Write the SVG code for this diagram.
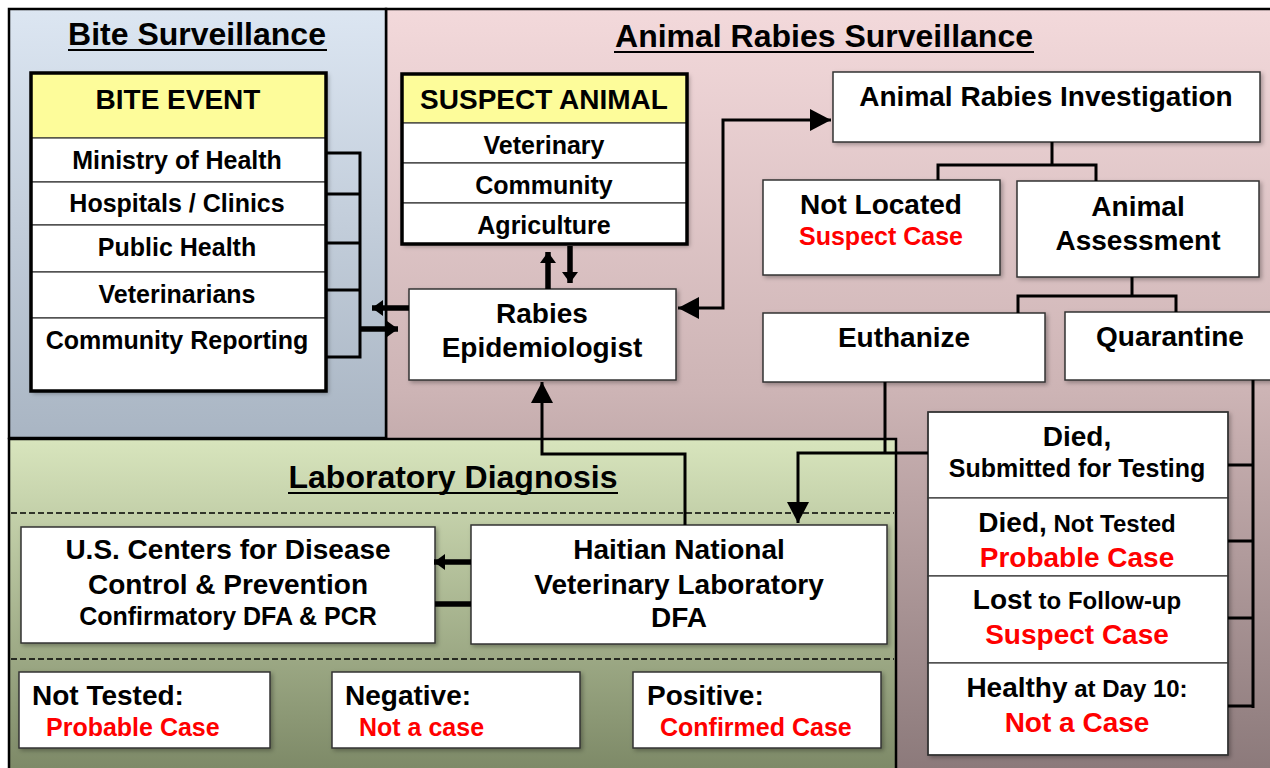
<svg xmlns="http://www.w3.org/2000/svg" width="1270" height="768" viewBox="0 0 1270 768">
<style>
.t{font-family:"Liberation Sans",Arial,sans-serif;font-weight:bold;fill:#000;text-anchor:middle}
.f28{font-size:28px}
.f24{font-size:24px}
.f25{font-size:25px}
.f32{font-size:32px}
.red{fill:#ff0000}
.st{text-anchor:start}
.box{fill:#fff;stroke:#333;stroke-width:1.5}
.hdr{fill:#fdfc9a;stroke:#333;stroke-width:1}
.row{fill:#fff;stroke:#333;stroke-width:1.2}
.frame{fill:none;stroke:#000;stroke-width:3.5}
.panel{stroke:#000;stroke-width:2.5}
.ln{fill:none;stroke:#000;stroke-width:3}
.thick{fill:none;stroke:#000;stroke-width:5.5}
.dash{stroke:#000;stroke-width:1.6;stroke-dasharray:6 3}
.ul{stroke:#000;stroke-width:2.2}
</style>
<defs>
<linearGradient id="gBite" x1="0" y1="0" x2="0" y2="1">
<stop offset="0" stop-color="#dce6f2"/><stop offset="1" stop-color="#a9b5c3"/>
</linearGradient>
<linearGradient id="gAnimal" x1="0" y1="0" x2="0" y2="1">
<stop offset="0" stop-color="#f3d9db"/><stop offset="0.5" stop-color="#cdb4b5"/><stop offset="1" stop-color="#8b797a"/>
</linearGradient>
<linearGradient id="gLab" x1="0" y1="0" x2="0" y2="1">
<stop offset="0" stop-color="#d8e5bd"/><stop offset="1" stop-color="#7c8866"/>
</linearGradient>
<filter id="sh" x="-10%" y="-10%" width="130%" height="140%">
<feDropShadow dx="2" dy="2" stdDeviation="2" flood-color="#000" flood-opacity="0.3"/>
</filter>
<marker id="big" markerUnits="userSpaceOnUse" markerWidth="24" markerHeight="24" refX="21" refY="11" orient="auto-start-reverse">
<path d="M0,0 L21,11 L0,22 z" fill="#000"/>
</marker>
<marker id="small" markerUnits="userSpaceOnUse" markerWidth="14" markerHeight="18" refX="11" refY="8" orient="auto-start-reverse">
<path d="M0,0 L11,8 L0,16 z" fill="#000"/>
</marker>
</defs>

<rect x="0" y="0" width="1270" height="768" fill="#fff"/>

<g id="panel-animal">
<rect class="panel" x="386" y="9" width="890" height="765" fill="url(#gAnimal)"/>
<text class="t f32" x="824" y="47">Animal Rabies Surveillance</text>
<line class="ul" x1="614" y1="52" x2="1034" y2="52"/>
</g>
<g id="panel-bite">
<rect class="panel" x="9" y="9" width="377" height="429" fill="url(#gBite)"/>
<text class="t f32" x="197" y="45">Bite Surveillance</text>
<line class="ul" x1="68" y1="50" x2="327" y2="50"/>
</g>
<g id="panel-lab">
<rect class="panel" x="9" y="439" width="887" height="335" fill="url(#gLab)"/>
<text class="t f32" x="453" y="488">Laboratory Diagnosis</text>
<line class="ul" x1="288" y1="493" x2="618" y2="493"/>
<line class="dash" x1="11" y1="513" x2="894" y2="513"/>
<line class="dash" x1="11" y1="659" x2="894" y2="659"/>
</g>

<g id="bite-event">
<g filter="url(#sh)">
<rect class="hdr" x="31" y="73" width="295" height="65"/>
<rect class="row" x="31" y="138" width="295" height="44"/>
<rect class="row" x="31" y="182" width="295" height="43"/>
<rect class="row" x="31" y="225" width="295" height="47"/>
<rect class="row" x="31" y="272" width="295" height="46"/>
<rect class="row" x="31" y="318" width="295" height="73"/>
</g>
<rect class="frame" x="31" y="73" width="295" height="318"/>
<text class="t f28" x="178" y="109">BITE EVENT</text>
<text class="t f25" x="177" y="169">Ministry of Health</text>
<text class="t f25" x="177" y="212">Hospitals / Clinics</text>
<text class="t f25" x="177" y="256">Public Health</text>
<text class="t f25" x="177" y="303">Veterinarians</text>
<text class="t f25" x="177" y="349">Community Reporting</text>
</g>

<g id="suspect-animal">
<g filter="url(#sh)">
<rect class="hdr" x="402" y="74" width="285" height="49"/>
<rect class="row" x="402" y="123" width="285" height="40"/>
<rect class="row" x="402" y="163" width="285" height="40"/>
<rect class="row" x="402" y="203" width="285" height="41"/>
</g>
<rect class="frame" x="402" y="74" width="285" height="170"/>
<text class="t f28" x="544" y="109">SUSPECT ANIMAL</text>
<text class="t f25" x="544" y="154">Veterinary</text>
<text class="t f25" x="544" y="194">Community</text>
<text class="t f25" x="544" y="234">Agriculture</text>
</g>

<g id="rabies-epidemiologist">
<rect class="box" filter="url(#sh)" x="409" y="289" width="267" height="91"/>
<text class="t f28" x="542" y="323">Rabies</text>
<text class="t f28" x="542" y="357">Epidemiologist</text>
</g>

<g id="animal-rabies-investigation">
<rect class="box" filter="url(#sh)" x="833" y="72" width="427" height="70"/>
<text class="t f28" x="1046" y="106">Animal Rabies Investigation</text>
</g>

<g id="not-located">
<rect class="box" filter="url(#sh)" x="763" y="180" width="237" height="95"/>
<text class="t f28" x="881" y="214">Not Located</text>
<text class="t f25 red" x="881" y="245">Suspect Case</text>
</g>

<g id="animal-assessment">
<rect class="box" filter="url(#sh)" x="1017" y="181" width="242" height="96"/>
<text class="t f28" x="1138" y="216">Animal</text>
<text class="t f28" x="1138" y="250">Assessment</text>
</g>

<g id="euthanize">
<rect class="box" filter="url(#sh)" x="763" y="313" width="282" height="69"/>
<text class="t f28" x="904" y="347">Euthanize</text>
</g>

<g id="quarantine">
<rect class="box" filter="url(#sh)" x="1065" y="312" width="215" height="68"/>
<text class="t f28" x="1170" y="346">Quarantine</text>
</g>

<g id="quarantine-outcomes">
<g filter="url(#sh)">
<rect class="row" x="928" y="412" width="300" height="86"/>
<rect class="row" x="928" y="498" width="300" height="78"/>
<rect class="row" x="928" y="576" width="300" height="87"/>
<rect class="row" x="928" y="663" width="300" height="92"/>
</g>
<rect x="928" y="412" width="300" height="343" fill="none" stroke="#333" stroke-width="1.5"/>
<text class="t f28" x="1077" y="446">Died,</text>
<text class="t f25" x="1077" y="477">Submitted for Testing</text>
<text class="t" x="1077" y="532"><tspan class="f28">Died,</tspan><tspan class="f24"> Not Tested</tspan></text>
<text class="t f28 red" x="1077" y="567">Probable Case</text>
<text class="t" x="1077" y="609"><tspan class="f28">Lost</tspan><tspan class="f24"> to Follow-up</tspan></text>
<text class="t f28 red" x="1077" y="644">Suspect Case</text>
<text class="t" x="1077" y="697"><tspan class="f28">Healthy</tspan><tspan class="f24"> at Day 10:</tspan></text>
<text class="t f28 red" x="1077" y="732">Not a Case</text>
</g>

<g id="cdc">
<rect class="box" filter="url(#sh)" x="21" y="527" width="414" height="116"/>
<text class="t f28" x="228" y="559">U.S. Centers for Disease</text>
<text class="t f28" x="228" y="594">Control &amp; Prevention</text>
<text class="t f25" x="228" y="625">Confirmatory DFA &amp; PCR</text>
</g>

<g id="haitian-lab">
<rect class="box" filter="url(#sh)" x="471" y="525" width="416" height="119"/>
<text class="t f28" x="679" y="559">Haitian National</text>
<text class="t f28" x="679" y="594">Veterinary Laboratory</text>
<text class="t f28" x="679" y="627">DFA</text>
</g>

<g id="not-tested">
<rect class="box" filter="url(#sh)" x="19" y="672" width="251" height="76"/>
<text class="t f28 st" x="32" y="705">Not Tested:</text>
<text class="t f25 red st" x="46" y="736">Probable Case</text>
</g>
<g id="negative">
<rect class="box" filter="url(#sh)" x="332" y="672" width="248" height="76"/>
<text class="t f28 st" x="345" y="705">Negative:</text>
<text class="t f25 red st" x="359" y="736">Not a case</text>
</g>
<g id="positive">
<rect class="box" filter="url(#sh)" x="633" y="672" width="248" height="76"/>
<text class="t f28 st" x="647" y="705">Positive:</text>
<text class="t f25 red st" x="660" y="736">Confirmed Case</text>
</g>

<g id="connectors">
<path class="ln" d="M326 153 H360 V357 H326 M326 194 H360 M326 243 H360 M326 290 H360"/>
<path class="thick" d="M409 308 H372" marker-end="url(#small)"/>
<path class="thick" d="M360 329 H398" marker-end="url(#small)"/>
<path class="thick" d="M548 289 V252" marker-end="url(#small)"/>
<path class="thick" d="M570 246 V283" marker-end="url(#small)"/>
<path class="ln" d="M678 308 H723 V120 H831" marker-start="url(#big)" marker-end="url(#big)"/>
<path class="ln" d="M1052 142 V165 M938 180 V165 H1096 V181"/>
<path class="ln" d="M1132 277 V296 M1018 313 V296 H1176 V312"/>
<path class="ln" d="M1253 380 V708 M1228 465 H1253 M1228 541 H1253 M1228 618 H1253 M1228 706 H1253"/>
<path class="ln" d="M885 382 V453"/>
<path class="ln" d="M928 453 H798 V523" marker-end="url(#big)"/>
<path class="ln" d="M685 525 V454 H542 V382" marker-end="url(#big)"/>
<path class="thick" d="M471 562 H434" marker-end="url(#small)"/>
<path class="thick" d="M435 604 H471"/>
</g>
</svg>
